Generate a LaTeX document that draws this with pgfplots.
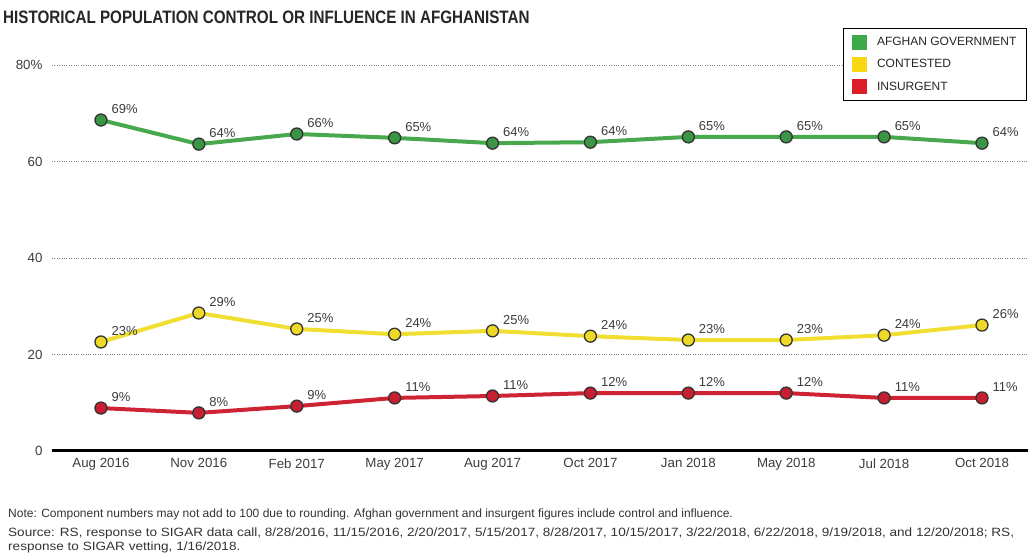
\documentclass[border=0pt]{standalone}
\usepackage{fontspec}
\setmainfont{Liberation Sans}
\newfontfamily\titlefont{Liberation Sans}[FakeStretch=0.845]
\newfontfamily\srcfont{Liberation Sans}[FakeStretch=1.13]
\usepackage{pgfplots}
\pgfplotsset{compat=1.18}
\definecolor{gline}{RGB}{72,168,78}
\definecolor{gmark}{RGB}{58,150,68}
\definecolor{yline}{RGB}{240,222,50}
\definecolor{ymark}{RGB}{238,216,40}
\definecolor{rline}{RGB}{205,35,50}
\definecolor{rmark}{RGB}{200,30,50}
\definecolor{gleg}{RGB}{60,170,72}
\definecolor{yleg}{RGB}{250,215,20}
\definecolor{rleg}{RGB}{220,30,40}
\definecolor{txt}{RGB}{60,60,60}
\begin{document}
\begin{tikzpicture}
\path[use as bounding box] (-52pt,-103pt) rectangle (976pt,451pt);
\begin{axis}[
  at={(0pt,0pt)}, anchor=south west,
  scale only axis, width=976pt, height=386pt,
  xmin=-0.5, xmax=9.47, ymin=0, ymax=80,
  axis x line*=bottom, axis y line*=left,
  y axis line style={draw=none},
  x axis line style={line width=3pt, black},
  xtick={0,...,9},
  xticklabels={Aug 2016,Nov 2016,Feb 2017,May 2017,Aug 2017,Oct 2017,Jan 2018,May 2018,Jul 2018,Oct 2018},
  ytick={0,20,40,60,80},
  yticklabels={0,20,40,60,80\%},
  tick style={draw=none},
  ymajorgrids,
  grid style={dotted, black!50, line width=0.7pt},
  tick label style={font=\fontsize{13.3}{15}\selectfont, text=txt},
  yticklabel style={anchor=east, xshift=-6pt},
  xticklabel style={yshift=-4pt},
  /pgf/number format/assume math mode=true,
  clip=false,
  point meta=explicit symbolic,
  nodes near coords={\pgfplotspointmeta\%},
  nodes near coords style={font=\fontsize{13}{15}\selectfont, text=txt, anchor=south west, inner sep=0pt, xshift=10pt, yshift=6pt},
  legend style={at={(1,1)}, anchor=north east, yshift=37pt, xshift=-1pt,
     draw=black, line width=1.2pt, fill=white,
     nodes={font=\fontsize{12}{14}\selectfont, text=black!85},
     row sep=7pt, inner xsep=8pt, inner ysep=6pt,
     cells={anchor=west}},
]
\addplot[forget plot, gline, line width=4pt, mark=*, mark size=6pt,
  mark options={fill=gmark, draw=black!80, line width=1.3pt}]
  coordinates {(0,68.6)[69] (1,63.6)[64] (2,65.7)[66] (3,64.9)[65] (4,63.8)[64]
               (5,64.0)[64] (6,65.1)[65] (7,65.1)[65] (8,65.1)[65] (9,63.8)[64]};
\addplot[forget plot, yline, line width=4pt, mark=*, mark size=6pt,
  mark options={fill=ymark, draw=black!80, line width=1.3pt}]
  coordinates {(0,22.6)[23] (1,28.6)[29] (2,25.3)[25] (3,24.2)[24] (4,24.9)[25]
               (5,23.8)[24] (6,23.0)[23] (7,23.0)[23] (8,24.0)[24] (9,26.1)[26]};
\addplot[forget plot, rline, line width=4pt, mark=*, mark size=6pt,
  mark options={fill=rmark, draw=black!80, line width=1.3pt}]
  coordinates {(0,8.9)[9] (1,7.9)[8] (2,9.3)[9] (3,11.0)[11] (4,11.4)[11]
               (5,12.0)[12] (6,12.0)[12] (7,12.0)[12] (8,11.0)[11] (9,11.0)[11]};
\addlegendimage{legend image code/.code={\fill[gleg] (0pt,-7pt) rectangle (14pt,7pt); \path (22pt,0pt);}}
\addlegendentry{AFGHAN GOVERNMENT}
\addlegendimage{legend image code/.code={\fill[yleg] (0pt,-7pt) rectangle (14pt,7pt); \path (22pt,0pt);}}
\addlegendentry{CONTESTED}
\addlegendimage{legend image code/.code={\fill[rleg] (0pt,-7pt) rectangle (14pt,7pt); \path (22pt,0pt);}}
\addlegendentry{INSURGENT}
\end{axis}
\node[anchor=base west, inner sep=0pt, text=black!85, font=\titlefont\bfseries\fontsize{18}{20}\selectfont] at (-49pt,427pt) {HISTORICAL POPULATION CONTROL OR INFLUENCE IN AFGHANISTAN};
\node[anchor=base west, inner sep=0pt, text=black!80, font=\fontsize{12}{14}\selectfont] at (-44pt,-66pt) {Note: Component numbers may not add to 100 due to rounding. Afghan government and insurgent figures include control and influence.};
\node[anchor=base west, inner sep=0pt, text=black!80, font=\srcfont\fontsize{12}{14}\selectfont] at (-44pt,-85pt) {Source: RS, response to SIGAR data call, 8/28/2016, 11/15/2016, 2/20/2017, 5/15/2017, 8/28/2017, 10/15/2017, 3/22/2018, 6/22/2018, 9/19/2018, and 12/20/2018; RS,};
\node[anchor=base west, inner sep=0pt, text=black!80, font=\srcfont\fontsize{12}{14}\selectfont] at (-44pt,-99pt) {response to SIGAR vetting, 1/16/2018.};
\end{tikzpicture}
\end{document}
